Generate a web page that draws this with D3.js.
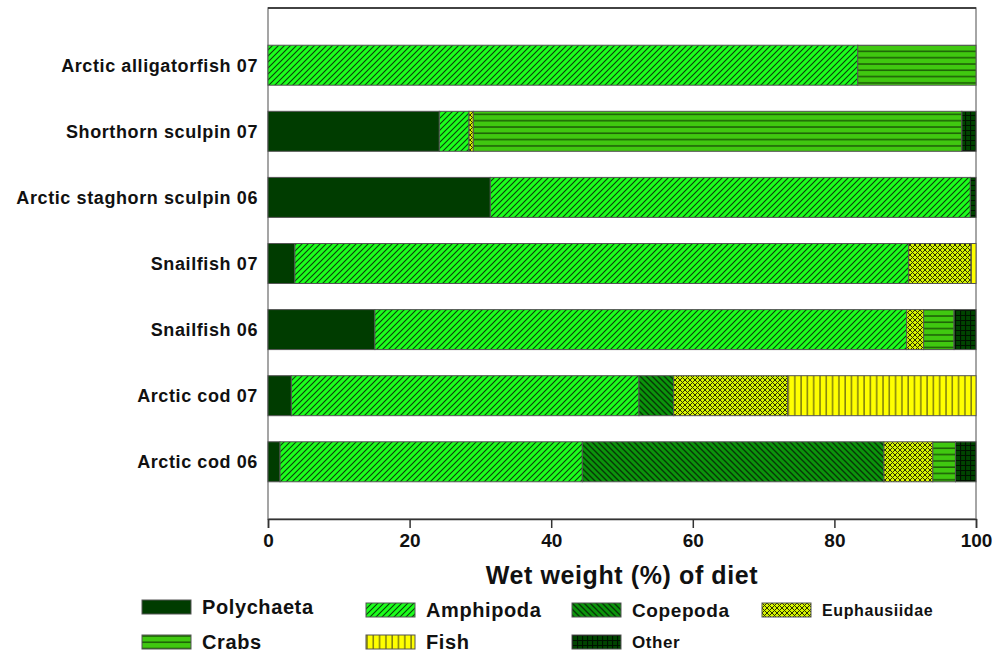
<!DOCTYPE html>
<html lang="en">
<head>
<meta charset="UTF-8">
<title>Diet composition</title>
<script src="https://d3js.org/d3.v7.min.js"></script>
<style>
  body { margin:0; background:#fff; }
  text { font-family: "Liberation Sans", Arial, sans-serif; font-weight: bold; fill:#111; }
</style>
</head>
<body>
<script>
// categories, top to bottom
var species = ["Arctic alligatorfish 07", "Shorthorn sculpin 07", "Arctic staghorn sculpin 06",
               "Snailfish 07", "Snailfish 06", "Arctic cod 07", "Arctic cod 06"];
var preyTypes = ["Polychaeta", "Amphipoda", "Copepoda", "Euphausiidae", "Crabs", "Fish", "Other"];

// wet weight % per prey type, same order as species
var polychaeta   = [0,    24.2, 31.4, 3.8,  15.1, 3.3,  1.7];
var amphipoda    = [83.3, 4.2,  67.8, 86.7, 75.1, 49.1, 42.7];
var copepoda     = [0,    0,    0,    0,    0,    4.9,  42.6];
var euphausiidae = [0,    0.6,  0,    8.8,  2.4,  16.1, 6.9];
var crabs        = [16.7, 69.0, 0,    0,    4.3,  0,    3.2];
var fish         = [0,    0,    0,    0.7,  0,    26.6, 0];
var other        = [0,    2.0,  0.8,  0,    3.1,  0,    2.9];

var xTicks = [0, 20, 40, 60, 80, 100];

var rows = species.map(function(s, i) {
  return { name: s, Polychaeta: polychaeta[i], Amphipoda: amphipoda[i], Copepoda: copepoda[i],
           Euphausiidae: euphausiidae[i], Crabs: crabs[i], Fish: fish[i], Other: other[i] };
});

var width = 1003, height = 653;
var plotL = 268, plotR = 976, plotT = 8, plotB = 519;

var svg = d3.select("body").append("svg").attr("width", width).attr("height", height);
var defs = svg.append("defs");

// fill patterns
function pat(id, size, bg, draw) {
  var p = defs.append("pattern").attr("id", id).attr("patternUnits", "userSpaceOnUse")
              .attr("width", size).attr("height", size);
  p.append("rect").attr("width", size).attr("height", size).attr("fill", bg);
  draw(p, size);
}
pat("p-amph", 6, "#1cff1c", function(p, s) {
  p.append("path").attr("d", "M0," + s + "L" + s + ",0M-1,1L1,-1M" + (s-1) + "," + (s+1) + "L" + (s+1) + "," + (s-1))
   .attr("stroke", "#0a400a").attr("stroke-width", 1.1);
});
pat("p-cope", 6, "#0b940b", function(p, s) {
  p.append("path").attr("d", "M0,0L" + s + "," + s + "M-1," + (s-1) + "L1," + (s+1) + "M" + (s-1) + ",-1L" + (s+1) + ",1")
   .attr("stroke", "#063806").attr("stroke-width", 1.4);
});
pat("p-euph", 5, "#d6f500", function(p, s) {
  p.append("path").attr("d", "M0,0L" + s + "," + s + "M0," + s + "L" + s + ",0")
   .attr("stroke", "#2a3000").attr("stroke-width", 1);
});
pat("p-crab", 6.3, "#40c810", function(p, s) {
  p.append("line").attr("x1", 0).attr("x2", s).attr("y1", 1).attr("y2", 1)
   .attr("stroke", "#1c5a06").attr("stroke-width", 1.5);
});
pat("p-fish", 6.3, "#ffff00", function(p, s) {
  p.append("line").attr("y1", 0).attr("y2", s).attr("x1", 1).attr("x2", 1)
   .attr("stroke", "#6a6a10").attr("stroke-width", 1.3);
});
pat("p-other", 5, "#004400", function(p, s) {
  p.append("path").attr("d", "M0,0.5H" + s + "M0.5,0V" + s)
   .attr("stroke", "#001200").attr("stroke-width", 1.2);
});

var fills = {
  Polychaeta: "#003c00", Amphipoda: "url(#p-amph)", Copepoda: "url(#p-cope)",
  Euphausiidae: "url(#p-euph)", Crabs: "url(#p-crab)", Fish: "url(#p-fish)", Other: "url(#p-other)"
};

var x = d3.scaleLinear().domain([0, 100]).range([plotL, plotR]);
var y = d3.scaleBand().domain(species).range([plotT + 24, plotB - 24]).paddingInner(0.395).paddingOuter(0.2);

// frame
svg.append("rect").attr("x", plotL).attr("y", plotT).attr("width", plotR - plotL).attr("height", plotB - plotT)
   .attr("fill", "none").attr("stroke", "#888").attr("stroke-width", 1.5);
svg.append("line").attr("x1", plotL).attr("x2", plotR).attr("y1", plotT).attr("y2", plotT)
   .attr("stroke", "#222").attr("stroke-width", 1.5);

var stack = d3.stack().keys(preyTypes)(rows);

svg.append("g").selectAll("g").data(stack).join("g")
  .attr("fill", function(d) { return fills[d.key]; })
  .selectAll("rect").data(function(d) { return d.filter(function(s) { return s[1] - s[0] > 0; }); }).join("rect")
  .attr("x", function(d) { return x(d[0]); })
  .attr("width", function(d) { return x(d[1]) - x(d[0]); })
  .attr("y", function(d) { return y(d.data.name); })
  .attr("height", y.bandwidth())
  .attr("stroke", "#555").attr("stroke-width", 1);

// category labels
svg.append("g").selectAll("text").data(species).join("text")
  .attr("x", 258).attr("y", function(d) { return y(d) + y.bandwidth() / 2; })
  .attr("dy", "0.36em").attr("text-anchor", "end")
  .style("font-size", "18px").style("letter-spacing", "0.6px")
  .text(function(d) { return d; });

// x axis
var xAxis = d3.axisBottom(x).tickValues(xTicks).tickSize(9).tickPadding(6);
var gx = svg.append("g").attr("transform", "translate(0," + plotB + ")").call(xAxis);
gx.select(".domain").attr("stroke", "#333").attr("stroke-width", 1.5);
gx.selectAll(".tick line").attr("stroke", "#333").attr("stroke-width", 1.5);
gx.selectAll(".tick text").style("font-size", "19px").style("font-family", "'Liberation Sans', Arial, sans-serif")
  .style("font-weight", "bold").attr("fill", "#111");

svg.append("text").attr("x", 622).attr("y", 584).attr("text-anchor", "middle")
   .style("font-size", "25px").style("letter-spacing", "0.6px").text("Wet weight (%) of diet");

// legend
var legendPos = [
  { key: "Polychaeta",   x: 142, y: 600, size: 20 },
  { key: "Amphipoda",    x: 366, y: 603, size: 20 },
  { key: "Copepoda",     x: 572, y: 603, size: 19 },
  { key: "Euphausiidae", x: 762, y: 603, size: 16 },
  { key: "Crabs",        x: 142, y: 635, size: 20 },
  { key: "Fish",         x: 366, y: 635, size: 20 },
  { key: "Other",        x: 572, y: 635, size: 17 }
];
var lg = svg.append("g").selectAll("g").data(legendPos).join("g")
  .attr("transform", function(d) { return "translate(" + d.x + "," + d.y + ")"; });
lg.append("rect").attr("width", 49).attr("height", 14)
  .attr("fill", function(d) { return fills[d.key]; })
  .attr("stroke", "#555").attr("stroke-width", 1);
lg.append("text").attr("x", 60).attr("y", 7).attr("dy", "0.36em")
  .style("font-size", function(d) { return d.size + "px"; })
  .style("letter-spacing", "0.6px")
  .text(function(d) { return d.key; });
</script>
</body>
</html>
